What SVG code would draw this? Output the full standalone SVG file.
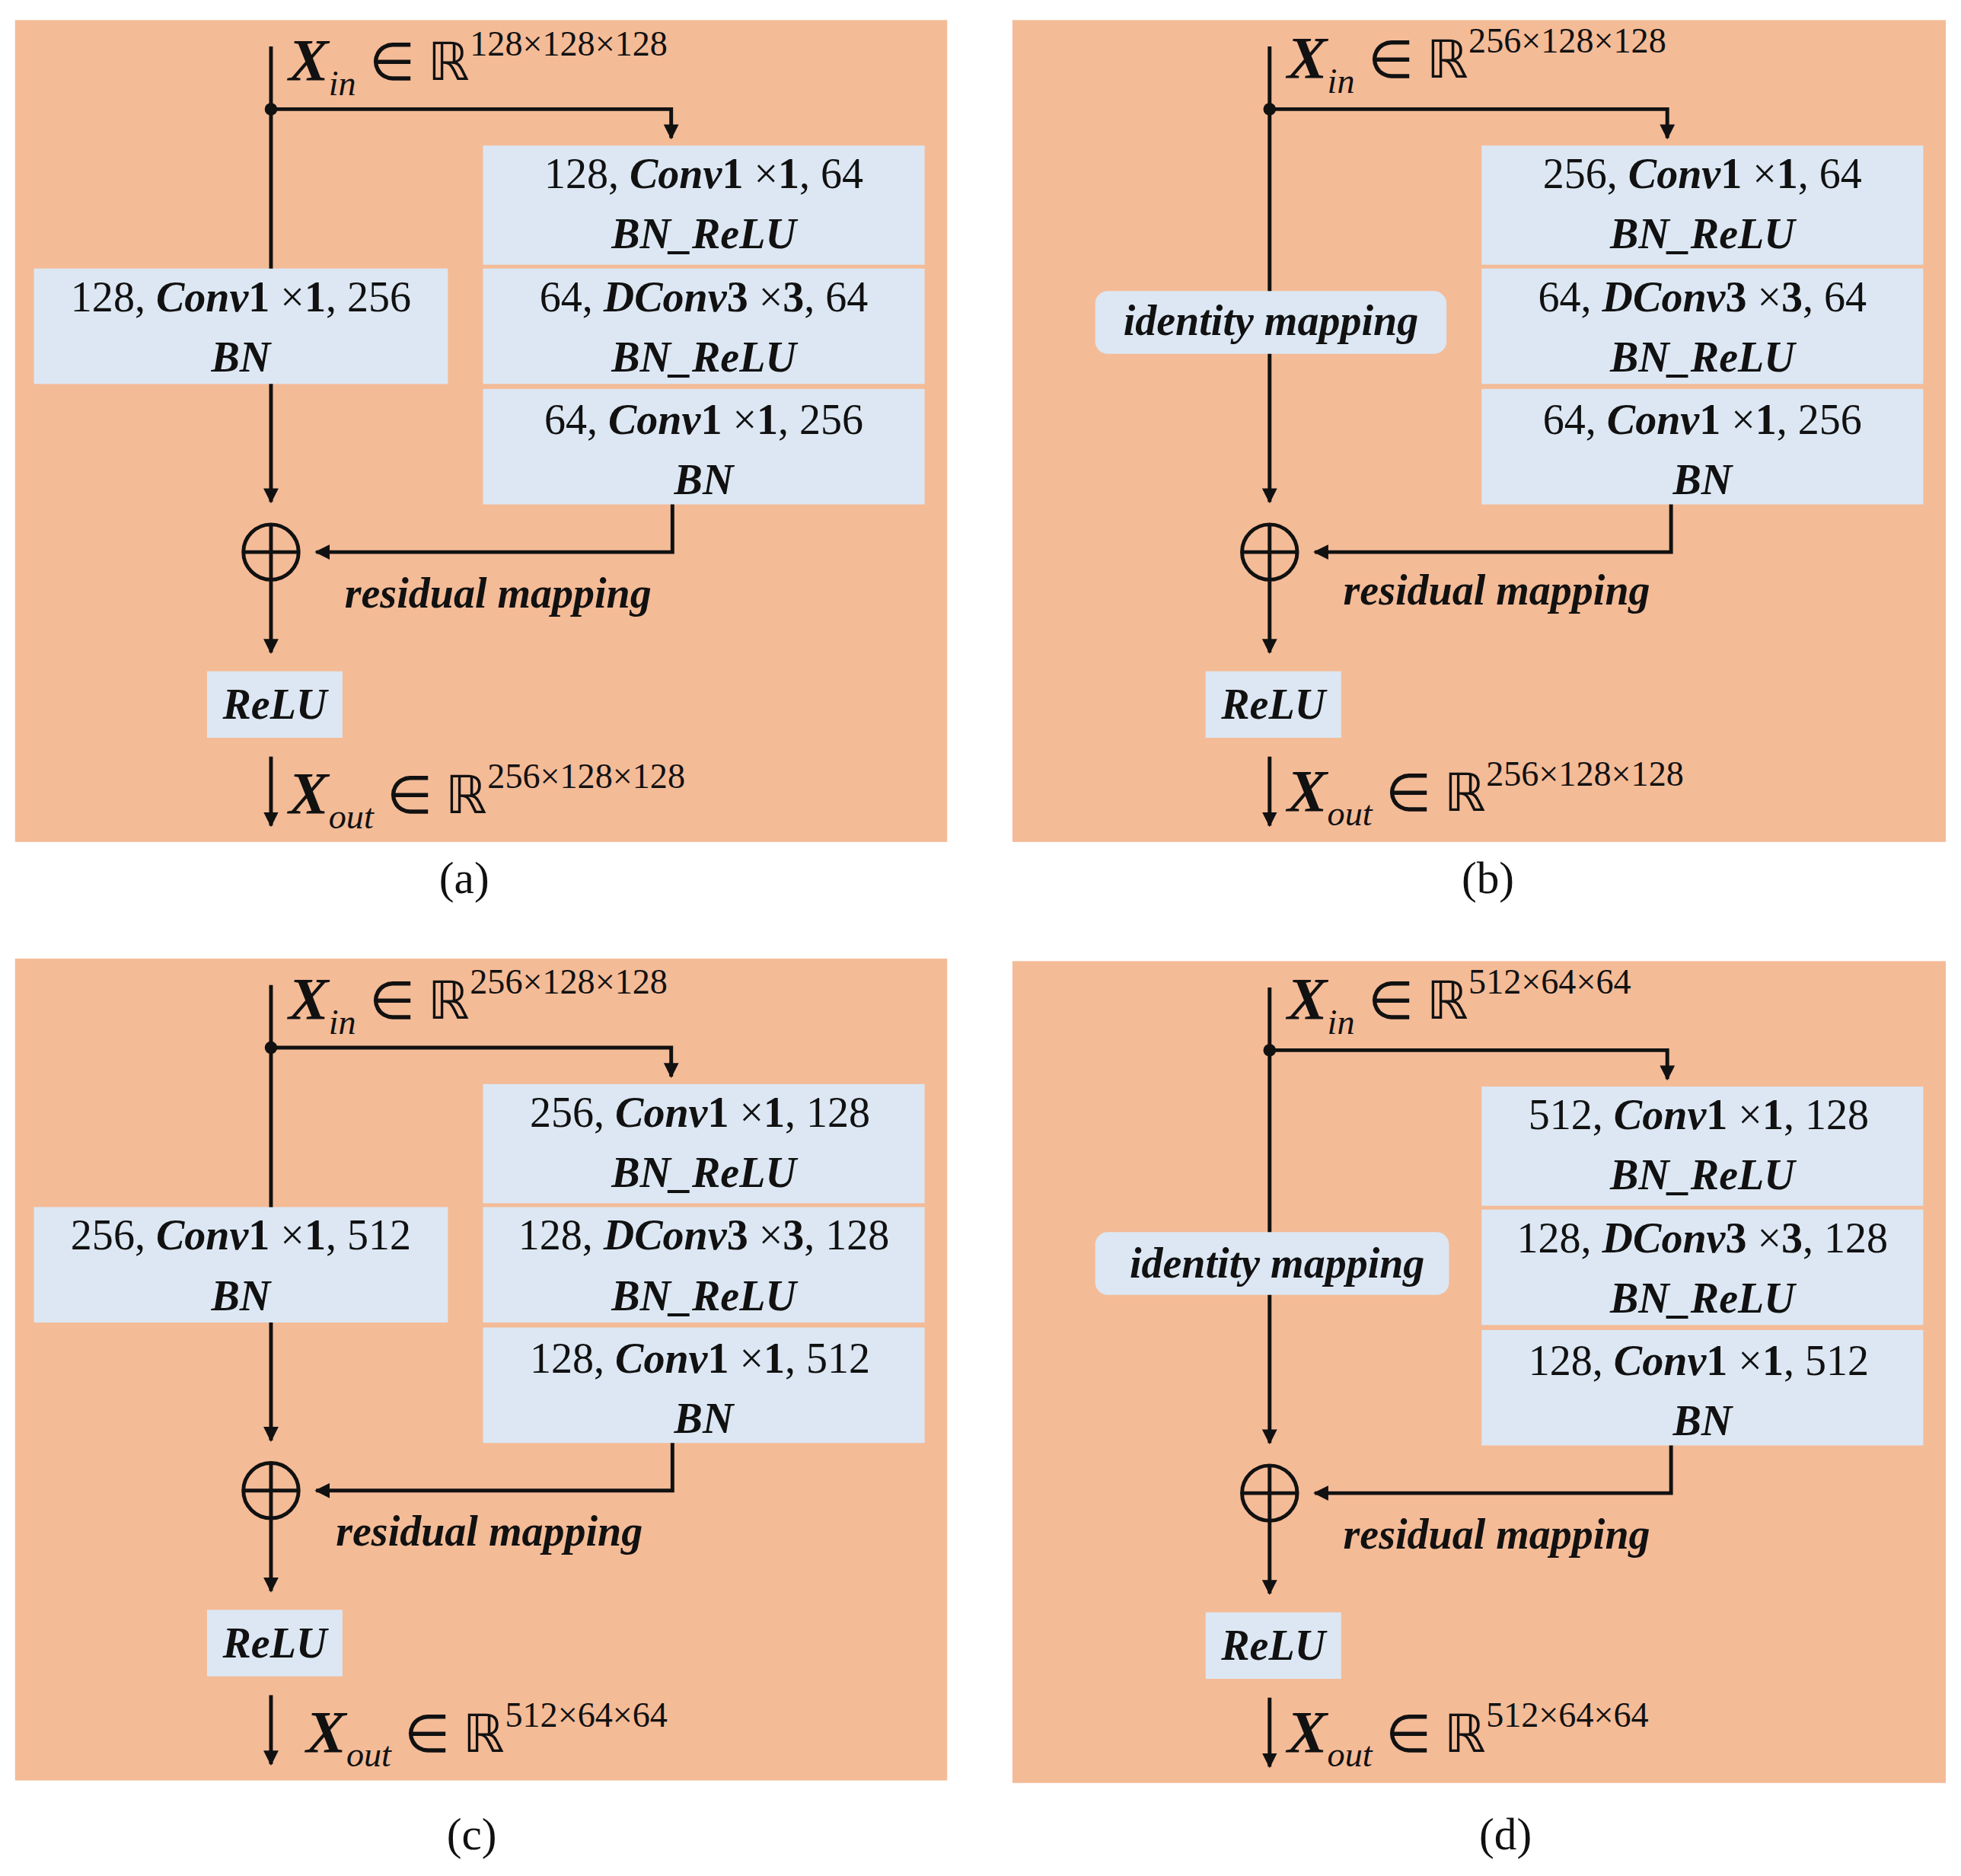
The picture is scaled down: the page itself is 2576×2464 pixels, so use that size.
<svg xmlns="http://www.w3.org/2000/svg" width="2576" height="2464" viewBox="0 0 2576 2464">
<style>
text{font-family:"Liberation Serif","Times New Roman",serif;fill:#111}
.t{font-size:34px;text-anchor:middle}
.bi{font-weight:bold;font-style:italic}
.b{font-weight:bold}
.bg{fill:#F4BB97}
.box{fill:#DCE7F3}
.ln{stroke:#111;stroke-width:3;fill:none}
.cap{font-size:36px;text-anchor:middle}
.X{font-size:48px}
.sub{font-size:28px;font-style:italic}
.sup{font-size:28px}
</style>
<defs>
<marker id="ah" viewBox="0 0 10 10" refX="9" refY="5" markerWidth="4" markerHeight="4" orient="auto"><path d="M0,0L10,5L0,10z" fill="#111"/></marker>
</defs>
<rect width="2576" height="2464" fill="#fff"/>
<g transform="scale(1.648)">
<!-- panel a -->
<g id="panel-a">
<rect class="bg" x="12" y="16" width="743" height="655"/>
<g id="a-xin"><text x="230" y="64"><tspan class="X bi">X</tspan><tspan class="sub" dy="12">in</tspan><tspan font-size="42" dy="-12"> ∈ ℝ</tspan><tspan class="sup" dy="-20">128×128×128</tspan></text></g>
<g id="a-r1"><rect class="box" x="385" y="116" width="352" height="95"/><text class="t" x="561" y="150">128, <tspan class="bi">Conv</tspan><tspan class="b">1</tspan> ×<tspan class="b">1</tspan>, 64</text><text class="t bi" x="561" y="198">BN_ReLU</text></g>
<g id="a-r2"><rect class="box" x="385" y="214" width="352" height="92"/><text class="t" x="561" y="248">64, <tspan class="bi">DConv</tspan><tspan class="b">3</tspan> ×<tspan class="b">3</tspan>, 64</text><text class="t bi" x="561" y="296">BN_ReLU</text></g>
<g id="a-r3"><rect class="box" x="385" y="310" width="352" height="92"/><text class="t" x="561" y="346">64, <tspan class="bi">Conv</tspan><tspan class="b">1</tspan> ×<tspan class="b">1</tspan>, 256</text><text class="t bi" x="561" y="394">BN</text></g>
<g id="a-left"><rect class="box" x="27" y="214" width="330" height="92"/><text class="t" x="192" y="248">128, <tspan class="bi">Conv</tspan><tspan class="b">1</tspan> ×<tspan class="b">1</tspan>, 256</text><text class="t bi" x="192" y="296">BN</text></g>
<g id="a-add"><circle class="ln" cx="216" cy="440" r="22"/><path class="ln" d="M194,440H238M216,418V462"/></g>
<g id="a-relu"><rect class="box" x="165" y="535" width="108" height="53"/><text class="t bi" x="219" y="573">ReLU</text></g>
<text class="t bi" x="397" y="484">residual mapping</text>
<g id="a-xout"><text x="230" y="648"><tspan class="X bi">X</tspan><tspan class="sub" dy="12">out</tspan><tspan font-size="42" dy="-12"> ∈ ℝ</tspan><tspan class="sup" dy="-20">256×128×128</tspan></text></g>
<text class="cap" x="370" y="712">(a)</text>
<g id="a-conn">
<path class="ln" d="M216,37V214M216,306V400" marker-end="url(#ah)"/>
<path class="ln" d="M216,87H535V110" marker-end="url(#ah)"/>
<circle cx="216" cy="87" r="5" fill="#111"/>
<path class="ln" d="M536,402V440H252" marker-end="url(#ah)"/>
<path class="ln" d="M216,462V520" marker-end="url(#ah)"/>
<path class="ln" d="M216,603V658" marker-end="url(#ah)"/>
</g>
</g>
<!-- panel b -->
<g id="panel-b" transform="translate(796,0)">
<rect class="bg" x="11" y="16" width="744" height="655"/>
<g id="b-xin"><text x="230" y="62"><tspan class="X bi">X</tspan><tspan class="sub" dy="12">in</tspan><tspan font-size="42" dy="-12"> ∈ ℝ</tspan><tspan class="sup" dy="-20">256×128×128</tspan></text></g>
<g id="b-r1"><rect class="box" x="385" y="116" width="352" height="95"/><text class="t" x="561" y="150">256, <tspan class="bi">Conv</tspan><tspan class="b">1</tspan> ×<tspan class="b">1</tspan>, 64</text><text class="t bi" x="561" y="198">BN_ReLU</text></g>
<g id="b-r2"><rect class="box" x="385" y="214" width="352" height="92"/><text class="t" x="561" y="248">64, <tspan class="bi">DConv</tspan><tspan class="b">3</tspan> ×<tspan class="b">3</tspan>, 64</text><text class="t bi" x="561" y="296">BN_ReLU</text></g>
<g id="b-r3"><rect class="box" x="385" y="310" width="352" height="92"/><text class="t" x="561" y="346">64, <tspan class="bi">Conv</tspan><tspan class="b">1</tspan> ×<tspan class="b">1</tspan>, 256</text><text class="t bi" x="561" y="394">BN</text></g>
<g id="b-id"><rect class="box" x="77" y="232" width="280" height="50" rx="10"/><text class="t bi" x="217" y="267">identity mapping</text></g>
<g id="b-add"><circle class="ln" cx="216" cy="440" r="22"/><path class="ln" d="M194,440H238M216,418V462"/></g>
<g id="b-relu"><rect class="box" x="165" y="535" width="108" height="53"/><text class="t bi" x="219" y="573">ReLU</text></g>
<text class="t bi" x="397" y="482">residual mapping</text>
<g id="b-xout"><text x="230" y="646"><tspan class="X bi">X</tspan><tspan class="sub" dy="12">out</tspan><tspan font-size="42" dy="-12"> ∈ ℝ</tspan><tspan class="sup" dy="-20">256×128×128</tspan></text></g>
<text class="cap" x="390" y="712">(b)</text>
<g id="b-conn">
<path class="ln" d="M216,37V232M216,282V400" marker-end="url(#ah)"/>
<path class="ln" d="M216,87H533V110" marker-end="url(#ah)"/>
<circle cx="216" cy="87" r="5" fill="#111"/>
<path class="ln" d="M536,402V440H252" marker-end="url(#ah)"/>
<path class="ln" d="M216,462V520" marker-end="url(#ah)"/>
<path class="ln" d="M216,603V658" marker-end="url(#ah)"/>
</g>
</g>
<!-- panel c -->
<g id="panel-c" transform="translate(0,748)">
<rect class="bg" x="12" y="16" width="743" height="655"/>
<g id="c-xin"><text x="230" y="64"><tspan class="X bi">X</tspan><tspan class="sub" dy="12">in</tspan><tspan font-size="42" dy="-12"> ∈ ℝ</tspan><tspan class="sup" dy="-20">256×128×128</tspan></text></g>
<g id="c-r1"><rect class="box" x="385" y="116" width="352" height="95"/><text class="t" x="558" y="150">256, <tspan class="bi">Conv</tspan><tspan class="b">1</tspan> ×<tspan class="b">1</tspan>, 128</text><text class="t bi" x="561" y="198">BN_ReLU</text></g>
<g id="c-r2"><rect class="box" x="385" y="214" width="352" height="92"/><text class="t" x="561" y="248">128, <tspan class="bi">DConv</tspan><tspan class="b">3</tspan> ×<tspan class="b">3</tspan>, 128</text><text class="t bi" x="561" y="296">BN_ReLU</text></g>
<g id="c-r3"><rect class="box" x="385" y="310" width="352" height="92"/><text class="t" x="558" y="346">128, <tspan class="bi">Conv</tspan><tspan class="b">1</tspan> ×<tspan class="b">1</tspan>, 512</text><text class="t bi" x="561" y="394">BN</text></g>
<g id="c-left"><rect class="box" x="27" y="214" width="330" height="92"/><text class="t" x="192" y="248">256, <tspan class="bi">Conv</tspan><tspan class="b">1</tspan> ×<tspan class="b">1</tspan>, 512</text><text class="t bi" x="192" y="296">BN</text></g>
<g id="c-add"><circle class="ln" cx="216" cy="440" r="22"/><path class="ln" d="M194,440H238M216,418V462"/></g>
<g id="c-relu"><rect class="box" x="165" y="535" width="108" height="53"/><text class="t bi" x="219" y="573">ReLU</text></g>
<text class="t bi" x="390" y="484">residual mapping</text>
<g id="c-xout"><text x="244" y="648"><tspan class="X bi">X</tspan><tspan class="sub" dy="12">out</tspan><tspan font-size="42" dy="-12"> ∈ ℝ</tspan><tspan class="sup" dy="-20">512×64×64</tspan></text></g>
<text class="cap" x="376" y="726">(c)</text>
<g id="c-conn">
<path class="ln" d="M216,37V214M216,306V400" marker-end="url(#ah)"/>
<path class="ln" d="M216,87H535V110" marker-end="url(#ah)"/>
<circle cx="216" cy="87" r="5" fill="#111"/>
<path class="ln" d="M536,402V440H252" marker-end="url(#ah)"/>
<path class="ln" d="M216,462V520" marker-end="url(#ah)"/>
<path class="ln" d="M216,603V658" marker-end="url(#ah)"/>
</g>
</g>
<!-- panel d -->
<g id="panel-d" transform="translate(796,750)">
<rect class="bg" x="11" y="16" width="744" height="655"/>
<g id="d-xin"><text x="230" y="62"><tspan class="X bi">X</tspan><tspan class="sub" dy="12">in</tspan><tspan font-size="42" dy="-12"> ∈ ℝ</tspan><tspan class="sup" dy="-20">512×64×64</tspan></text></g>
<g id="d-r1"><rect class="box" x="385" y="116" width="352" height="95"/><text class="t" x="558" y="150">512, <tspan class="bi">Conv</tspan><tspan class="b">1</tspan> ×<tspan class="b">1</tspan>, 128</text><text class="t bi" x="561" y="198">BN_ReLU</text></g>
<g id="d-r2"><rect class="box" x="385" y="214" width="352" height="92"/><text class="t" x="561" y="248">128, <tspan class="bi">DConv</tspan><tspan class="b">3</tspan> ×<tspan class="b">3</tspan>, 128</text><text class="t bi" x="561" y="296">BN_ReLU</text></g>
<g id="d-r3"><rect class="box" x="385" y="310" width="352" height="92"/><text class="t" x="558" y="346">128, <tspan class="bi">Conv</tspan><tspan class="b">1</tspan> ×<tspan class="b">1</tspan>, 512</text><text class="t bi" x="561" y="394">BN</text></g>
<g id="d-id"><rect class="box" x="77" y="232" width="282" height="50" rx="10"/><text class="t bi" x="222" y="268">identity mapping</text></g>
<g id="d-add"><circle class="ln" cx="216" cy="440" r="22"/><path class="ln" d="M194,440H238M216,418V462"/></g>
<g id="d-relu"><rect class="box" x="165" y="535" width="108" height="53"/><text class="t bi" x="219" y="573">ReLU</text></g>
<text class="t bi" x="397" y="484">residual mapping</text>
<g id="d-xout"><text x="230" y="646"><tspan class="X bi">X</tspan><tspan class="sub" dy="12">out</tspan><tspan font-size="42" dy="-12"> ∈ ℝ</tspan><tspan class="sup" dy="-20">512×64×64</tspan></text></g>
<text class="cap" x="404" y="724">(d)</text>
<g id="d-conn">
<path class="ln" d="M216,37V232M216,282V400" marker-end="url(#ah)"/>
<path class="ln" d="M216,87H533V110" marker-end="url(#ah)"/>
<circle cx="216" cy="87" r="5" fill="#111"/>
<path class="ln" d="M536,402V440H252" marker-end="url(#ah)"/>
<path class="ln" d="M216,462V520" marker-end="url(#ah)"/>
<path class="ln" d="M216,603V658" marker-end="url(#ah)"/>
</g>
</g>
</g>
</svg>
